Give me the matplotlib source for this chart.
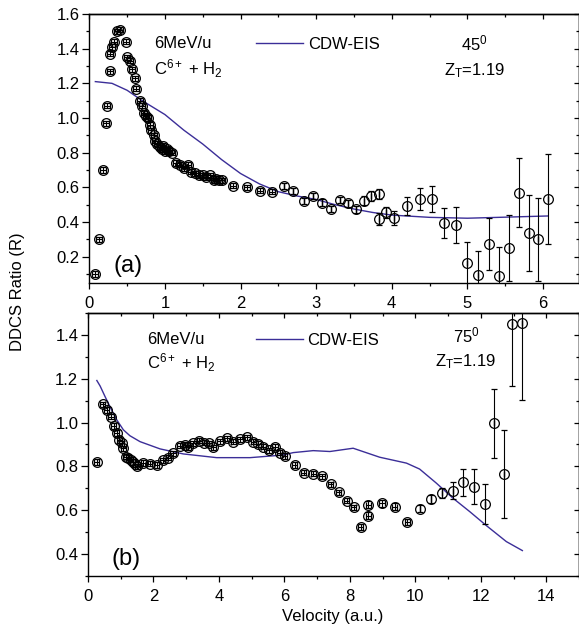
import matplotlib
matplotlib.use("Agg")
import matplotlib.pyplot as plt
from matplotlib.ticker import MultipleLocator

plt.rcParams['font.family'] = ['Liberation Sans', 'DejaVu Sans']
plt.rcParams['font.size'] = 12
plt.rcParams['mathtext.fontset'] = 'custom'
plt.rcParams['mathtext.rm'] = 'Liberation Sans'
plt.rcParams['mathtext.it'] = 'Liberation Sans:italic'

# ---- panel (a): 45 deg ----
top_v = [0.08, 0.13, 0.18, 0.22, 0.24, 0.27, 0.27, 0.30, 0.33, 0.37, 0.41, 0.48,
         0.50, 0.54, 0.57, 0.60, 0.62, 0.67, 0.70, 0.72, 0.75, 0.78, 0.80, 0.82,
         0.85, 0.87, 0.90, 0.93, 0.96, 0.98, 1.00, 1.03, 1.06, 1.10, 1.15, 1.20,
         1.25, 1.30, 1.35, 1.40, 1.45, 1.50, 1.55, 1.60, 1.65, 1.68, 1.72, 1.75,
         1.90, 2.08, 2.26, 2.42, 2.57, 2.70, 2.84, 2.96, 3.08, 3.20, 3.31, 3.42,
         3.53, 3.63, 3.73, 3.83, 3.83, 3.93, 4.03, 4.20, 4.37, 4.53, 4.69, 4.85,
         5.00, 5.14, 5.28, 5.42, 5.55, 5.68, 5.81, 5.93, 6.07]
top_r = [0.10, 0.30, 0.70, 0.97, 1.07, 1.27, 1.37, 1.41, 1.44, 1.50, 1.51, 1.44,
         1.35, 1.33, 1.28, 1.23, 1.17, 1.10, 1.07, 1.03, 1.01, 1.00, 0.96, 0.93,
         0.90, 0.87, 0.85, 0.83, 0.82, 0.84, 0.81, 0.82, 0.81, 0.80, 0.74, 0.73,
         0.71, 0.73, 0.69, 0.68, 0.67, 0.67, 0.66, 0.67, 0.64, 0.65, 0.64, 0.64,
         0.61, 0.60, 0.58, 0.575, 0.61, 0.58, 0.523, 0.55, 0.512, 0.475, 0.527, 0.508,
         0.474, 0.523, 0.55, 0.56, 0.418, 0.456, 0.422, 0.493, 0.531, 0.533, 0.393, 0.383,
         0.162, 0.095, 0.272, 0.089, 0.249, 0.569, 0.335, 0.30, 0.531]
top_err = [0.015, 0.015, 0.015, 0.015, 0.015, 0.015, 0.015, 0.015, 0.015, 0.015, 0.015, 0.015,
           0.015, 0.015, 0.015, 0.015, 0.015, 0.015, 0.015, 0.015, 0.015, 0.015, 0.015, 0.015,
           0.015, 0.015, 0.015, 0.015, 0.015, 0.015, 0.015, 0.015, 0.015, 0.015, 0.015, 0.015,
           0.015, 0.015, 0.015, 0.015, 0.015, 0.015, 0.015, 0.015, 0.015, 0.015, 0.015, 0.015,
           0.015, 0.015, 0.015, 0.015, 0.018, 0.018, 0.018, 0.018, 0.02, 0.02, 0.02, 0.02,
           0.02, 0.025, 0.03, 0.03, 0.035, 0.03, 0.04, 0.05, 0.063, 0.077, 0.088, 0.104,
           0.12, 0.14, 0.15, 0.165, 0.19, 0.20, 0.22, 0.24, 0.26]
top_verr = [0.04, 0.04, 0.04, 0.04, 0.04, 0.04, 0.04, 0.04, 0.04, 0.04, 0.04, 0.04,
            0.04, 0.04, 0.04, 0.04, 0.04, 0.04, 0.04, 0.04, 0.04, 0.04, 0.04, 0.04,
            0.04, 0.04, 0.04, 0.04, 0.04, 0.04, 0.04, 0.04, 0.04, 0.04, 0.04, 0.04,
            0.04, 0.04, 0.04, 0.04, 0.04, 0.04, 0.04, 0.04, 0.04, 0.04, 0.04, 0.04,
            0.04, 0.04, 0.04, 0.04, 0, 0, 0, 0, 0, 0, 0, 0,
            0, 0, 0, 0, 0, 0, 0, 0, 0, 0, 0, 0,
            0, 0, 0, 0, 0, 0, 0, 0, 0]
top_th_v = [0.08, 0.3, 0.5, 0.7, 1.0, 1.25, 1.5, 1.75, 2.0, 2.25, 2.5, 2.75, 3.0,
            3.25, 3.5, 3.75, 4.0, 4.5, 5.0, 5.5, 6.07]
top_th_r = [1.21, 1.20, 1.16, 1.10, 1.02, 0.93, 0.85, 0.76, 0.68, 0.62, 0.575, 0.55, 0.53,
            0.50, 0.475, 0.455, 0.44, 0.427, 0.422, 0.428, 0.435]

# ---- panel (b): 75 deg ----
bot_v = [0.27, 0.45, 0.57, 0.70, 0.79, 0.88, 0.96, 1.03, 1.08, 1.16, 1.23, 1.30,
         1.37, 1.44, 1.51, 1.69, 1.89, 2.10, 2.28, 2.45, 2.60, 2.81, 2.95, 3.06,
         3.21, 3.40, 3.55, 3.70, 3.83, 4.03, 4.25, 4.44, 4.64, 4.86, 5.05, 5.20,
         5.35, 5.53, 5.71, 5.86, 6.01, 6.32, 6.59, 6.88, 7.15, 7.41, 7.66, 7.90,
         8.12, 8.33, 8.56, 8.56, 8.98, 9.37, 9.75, 10.13, 10.49, 10.82, 11.15, 11.46,
         11.80, 12.12, 12.40, 12.71, 12.96, 13.27]
bot_r = [0.82, 1.084, 1.058, 1.027, 0.985, 0.952, 0.921, 0.906, 0.883, 0.845, 0.84, 0.83,
         0.82, 0.81, 0.80, 0.815, 0.813, 0.807, 0.828, 0.84, 0.86, 0.894, 0.90, 0.887,
         0.905, 0.917, 0.908, 0.905, 0.887, 0.915, 0.928, 0.913, 0.923, 0.932, 0.913, 0.902,
         0.89, 0.874, 0.889, 0.862, 0.847, 0.806, 0.772, 0.766, 0.754, 0.719, 0.681, 0.643,
         0.614, 0.523, 0.625, 0.575, 0.632, 0.617, 0.546, 0.607, 0.652, 0.678, 0.69, 0.727,
         0.708, 0.629, 0.997, 0.766, 1.449, 1.453]
bot_err = [0.015, 0.012, 0.012, 0.012, 0.012, 0.012, 0.012, 0.012, 0.012, 0.012, 0.012, 0.012,
           0.012, 0.012, 0.012, 0.012, 0.012, 0.012, 0.012, 0.012, 0.012, 0.012, 0.012, 0.012,
           0.012, 0.012, 0.012, 0.012, 0.012, 0.012, 0.012, 0.012, 0.012, 0.012, 0.012, 0.012,
           0.012, 0.012, 0.012, 0.012, 0.012, 0.012, 0.012, 0.012, 0.012, 0.012, 0.012, 0.012,
           0.012, 0.015, 0.015, 0.015, 0.015, 0.015, 0.015, 0.015, 0.018, 0.022, 0.04, 0.06,
           0.078, 0.09, 0.157, 0.20, 0.28, 0.35]
bot_verr = [0.08, 0.08, 0.08, 0.08, 0.08, 0.08, 0.08, 0.08, 0.08, 0.08, 0.08, 0.08,
            0.08, 0.08, 0.08, 0.08, 0.08, 0.08, 0.08, 0.08, 0.08, 0.08, 0.08, 0.08,
            0.08, 0.08, 0.08, 0.08, 0.08, 0.08, 0.08, 0.08, 0.08, 0.08, 0.08, 0.08,
            0.08, 0.08, 0.08, 0.08, 0.08, 0.08, 0.08, 0.08, 0.08, 0.08, 0.08, 0.08,
            0.08, 0.08, 0.08, 0.08, 0.08, 0.08, 0.08, 0, 0, 0, 0, 0,
            0, 0, 0, 0, 0, 0]
bot_th_v = [0.27, 0.37, 0.52, 0.67, 0.88, 1.08, 1.28, 1.59, 2.20, 2.91, 3.93, 4.95,
            5.96, 6.27, 6.88, 7.39, 8.10, 8.91, 9.73, 10.13, 10.64, 11.15, 11.66, 12.17,
            12.78, 13.27]
bot_th_r = [1.192, 1.167, 1.119, 1.073, 1.012, 0.967, 0.940, 0.913, 0.88, 0.857, 0.84, 0.84,
            0.852, 0.863, 0.872, 0.868, 0.883, 0.842, 0.815, 0.788, 0.724, 0.655, 0.594, 0.53,
            0.457, 0.416]

theory_color = '#3b2e98'

W, H = 579, 631
fig = plt.figure(figsize=(W / 100, H / 100), dpi=100)
ax1 = fig.add_axes([89.3 / W, (H - 282.7) / H, 489.2 / W, 268.7 / H])
ax2 = fig.add_axes([88 / W, (H - 576) / H, 491 / W, 263 / H])


def style(ax, xmaj, xmin, ymaj, ymin):
    ax.xaxis.set_major_locator(MultipleLocator(xmaj))
    ax.xaxis.set_minor_locator(MultipleLocator(xmin))
    ax.yaxis.set_major_locator(MultipleLocator(ymaj))
    ax.yaxis.set_minor_locator(MultipleLocator(ymin))
    ax.tick_params(axis='x', which='major', direction='out', length=4.5, width=0.9, pad=5)
    ax.tick_params(axis='x', which='minor', direction='out', length=2.5, width=0.9)
    ax.tick_params(axis='y', which='major', direction='out', length=5, width=0.9, pad=2)
    ax.tick_params(axis='y', which='minor', direction='out', length=2.5, width=0.9)
    for s in ax.spines.values():
        s.set_linewidth(1.0)
    top = ax.secondary_xaxis('top')
    top.xaxis.set_major_locator(MultipleLocator(xmaj))
    top.xaxis.set_minor_locator(MultipleLocator(xmin))
    top.tick_params(which='major', direction='in', length=3.5, width=0.9, labeltop=False)
    top.tick_params(which='minor', direction='in', length=2, width=0.9)
    top.spines['top'].set_linewidth(1.0)
    right = ax.secondary_yaxis('right')
    right.yaxis.set_major_locator(MultipleLocator(ymaj))
    right.yaxis.set_minor_locator(MultipleLocator(ymin))
    right.tick_params(which='major', direction='in', length=3.5, width=0.9, labelright=False)
    right.tick_params(which='minor', direction='in', length=2, width=0.9)
    right.spines['right'].set_linewidth(1.0)


eb_kw = dict(fmt='o', ms=7, mfc='none', mec='black', mew=0.9, ecolor='black',
             elinewidth=0.8, capsize=2.2, capthick=0.8, zorder=3)

# panel (a)
ax1.plot(top_th_v, top_th_r, color=theory_color, lw=1.0, label='CDW-EIS', zorder=2)
ax1.errorbar(top_v, top_r, yerr=top_err, xerr=top_verr, **eb_kw)
ax1.set_xlim(0, 6.47)
ax1.set_ylim(0.05, 1.6)
style(ax1, 1, 0.5, 0.2, 0.1)
ax1.legend(loc='center left', bbox_to_anchor=(0.341, 0.888), frameon=False,
           borderpad=0, borderaxespad=0, handlelength=2.8, handletextpad=0.3, fontsize=12)
ax1.text(0.132, 0.872, '6MeV/u', transform=ax1.transAxes, fontsize=12, va='baseline')
ax1.text(0.132, 0.773, r'C$^{6+}$ + H$_2$', transform=ax1.transAxes, fontsize=12, va='baseline')
ax1.text(0.759, 0.863, r'45$^0$', transform=ax1.transAxes, fontsize=12, va='baseline')
ax1.text(0.725, 0.773, r'Z$_\mathregular{T}$=1.19', transform=ax1.transAxes, fontsize=12, va='baseline')
ax1.text(0.049, 0.041, '(a)', transform=ax1.transAxes, fontsize=17, va='baseline')

# panel (b)
ax2.plot(bot_th_v, bot_th_r, color=theory_color, lw=1.0, label='CDW-EIS', zorder=2)
ax2.errorbar(bot_v, bot_r, yerr=bot_err, xerr=bot_verr, **eb_kw)
ax2.set_xlim(0, 15)
ax2.set_ylim(0.3, 1.5)
style(ax2, 2, 1, 0.2, 0.1)
ax2.legend(loc='center left', bbox_to_anchor=(0.342, 0.897), frameon=False,
           borderpad=0, borderaxespad=0, handlelength=2.8, handletextpad=0.3, fontsize=12)
ax2.text(0.1195, 0.882, '6MeV/u', transform=ax2.transAxes, fontsize=12, va='baseline')
ax2.text(0.1195, 0.790, r'C$^{6+}$ + H$_2$', transform=ax2.transAxes, fontsize=12, va='baseline')
ax2.text(0.744, 0.887, r'75$^0$', transform=ax2.transAxes, fontsize=12, va='baseline')
ax2.text(0.707, 0.796, r'Z$_\mathregular{T}$=1.19', transform=ax2.transAxes, fontsize=12, va='baseline')
ax2.text(0.048, 0.042, '(b)', transform=ax2.transAxes, fontsize=17, va='baseline')

fig.text(18 / W, 1 - 292 / H, 'DDCS Ratio (R)', rotation=90, ha='center', va='center', fontsize=12)
fig.text(333 / W, 1 - 617 / H, 'Velocity (a.u.)', ha='center', va='center', fontsize=12)

fig.savefig('out.png', dpi=100)
